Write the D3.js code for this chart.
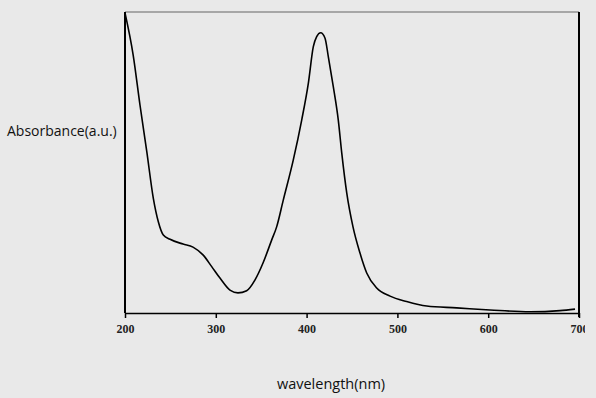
<!DOCTYPE html>
<html>
<head>
<meta charset="utf-8">
<script src="https://cdn.jsdelivr.net/npm/d3@7"></script>
<style>
  html, body { margin: 0; padding: 0; background: #e9e9e9; }
  svg { display: block; }
</style>
</head>
<body>
<svg id="chart"></svg>
<script>
// spectrum (arbitrary units)
const wavelength = [200, 209, 216.5, 224, 231.2, 236.7, 242.2, 249.6, 263.9, 274.9, 285.9, 295.5, 304.6,
  315.6, 324.4, 334, 343.2, 352, 361.6, 367.1, 374.3, 385.3, 394.6, 401.9, 407.4, 411.1, 415.5, 420.3,
  423.9, 429.4, 434.9, 438.7, 444.2, 451.1, 458.8, 466.2, 477.2, 491.9, 510.2, 532.3, 565.3, 602, 646,
  679, 695.6];
const absorbance = [0.997, 0.857, 0.691, 0.536, 0.381, 0.303, 0.259, 0.245, 0.229, 0.219, 0.193, 0.154, 0.116,
  0.076, 0.067, 0.074, 0.11, 0.166, 0.243, 0.287, 0.375, 0.508, 0.641, 0.763, 0.885, 0.918, 0.931, 0.913,
  0.852, 0.752, 0.641, 0.532, 0.399, 0.286, 0.199, 0.133, 0.083, 0.056, 0.038, 0.023, 0.017, 0.01, 0.004,
  0.008, 0.013];
const xTicks = [200, 300, 400, 500, 600, 700];

const width = 596;
const height = 398;
const margin = { top: 12, right: 17, bottom: 85, left: 125 };

const svg = d3.select('#chart')
  .attr('width', width)
  .attr('height', height);

const innerWidth = width - margin.left - margin.right;
const innerHeight = height - margin.top - margin.bottom;

const x = d3.scaleLinear().domain([200, 700]).range([0, innerWidth]);
const y = d3.scaleLinear().domain([0, 1]).range([innerHeight, 0]);

// the last tick label is cut at the picture's right edge
svg.append('clipPath').attr('id', 'edge')
  .append('rect').attr('x', 0).attr('y', 0).attr('width', 585).attr('height', height);

const g = svg.append('g')
  .attr('transform', `translate(${margin.left},${margin.top})`);

// top frame line
g.append('line')
  .attr('x1', 0).attr('x2', innerWidth)
  .attr('y1', 0).attr('y2', 0)
  .attr('stroke', '#666').attr('stroke-width', 1.2);

svg.append('g')
  .attr('clip-path', 'url(#edge)')
  .append('g')
  .attr('class', 'axis axis--x')
  .attr('transform', `translate(${margin.left},${margin.top + innerHeight})`)
  .call(d3.axisBottom(x).tickValues(xTicks).tickSize(5).tickSizeOuter(0).tickPadding(6))
  .call(s => s.select('.domain').attr('stroke', '#000').attr('stroke-width', 1.5))
  .call(s => s.selectAll('.tick line').attr('stroke', '#000').attr('stroke-width', 1.5))
  .call(s => s.selectAll('.tick text')
    .attr('fill', '#222')
    .style('font-family', '"Liberation Serif", serif')
    .style('font-weight', 'bold')
    .style('font-size', '12px'));

g.append('line')
  .attr('x1', 0).attr('x2', 0).attr('y1', 0).attr('y2', innerHeight)
  .attr('stroke', '#000').attr('stroke-width', 2);

g.append('line')
  .attr('x1', innerWidth).attr('x2', innerWidth).attr('y1', 0).attr('y2', innerHeight + 4)
  .attr('stroke', '#000').attr('stroke-width', 2);

const line = d3.line()
  .x((d, i) => x(wavelength[i]))
  .y(d => y(d))
  .curve(d3.curveMonotoneX);

g.append('path')
  .datum(absorbance)
  .attr('fill', 'none')
  .attr('stroke', '#000')
  .attr('stroke-width', 1.6)
  .attr('d', line);

svg.append('text')
  .attr('x', 7).attr('y', 136)
  .style('font-family', '"Open Sans", sans-serif')
  .style('font-size', '14px')
  .attr('fill', '#111')
  .text('Absorbance(a.u.)');

svg.append('text')
  .attr('x', 331).attr('y', 389)
  .attr('text-anchor', 'middle')
  .style('font-family', '"Open Sans", sans-serif')
  .style('font-size', '14.5px')
  .attr('fill', '#111')
  .text('wavelength(nm)');
</script>
</body>
</html>
